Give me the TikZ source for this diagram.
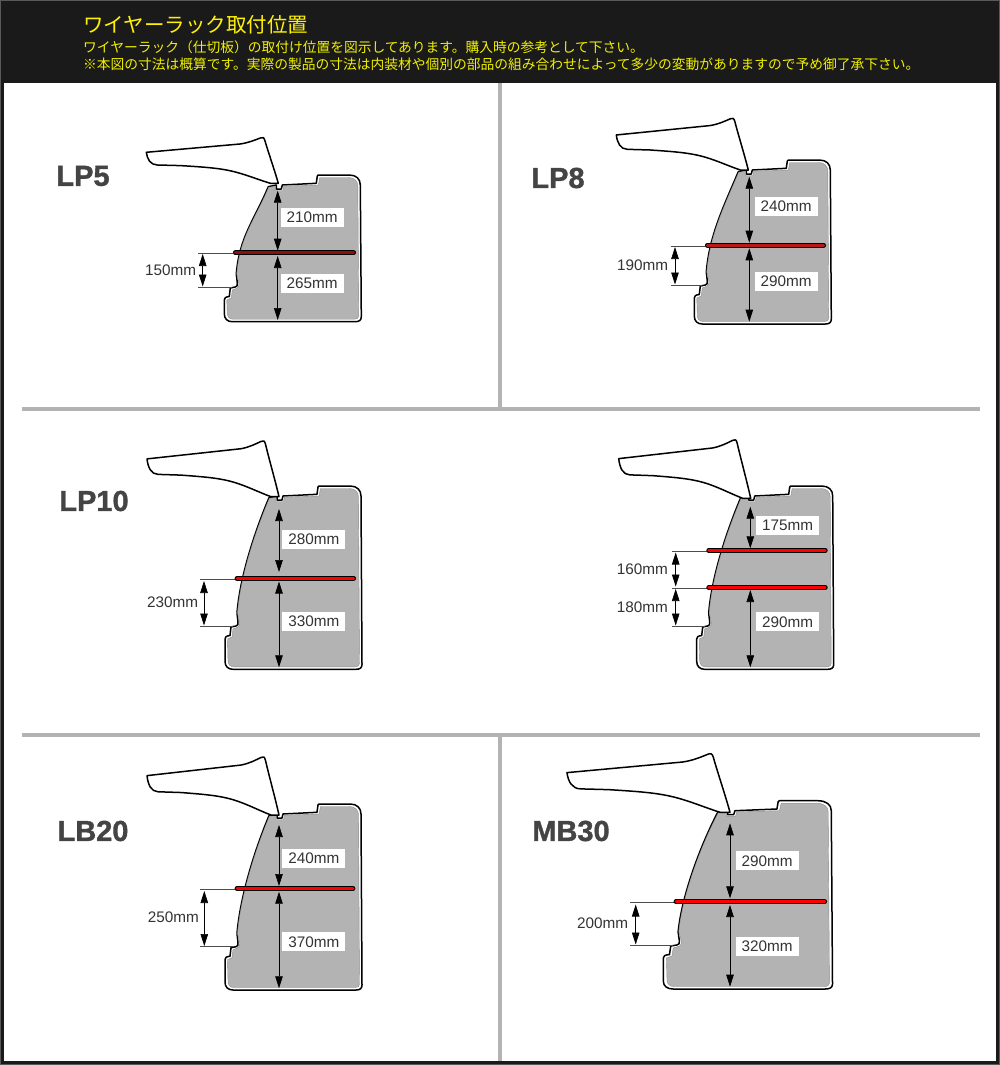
\documentclass[tikz,border=0pt]{standalone}
\usepackage{fontspec}
\usetikzlibrary{arrows.meta}
\setmainfont{Liberation Sans}
\newfontfamily\cjk{Noto Sans CJK JP}
\newfontfamily\namefont[BoldFeatures={FakeBold=1.2}]{Liberation Sans}
\definecolor{headbg}{HTML}{1A1A1A}
\definecolor{rulegray}{HTML}{B3B3B3}
\definecolor{textgray}{HTML}{333333}
\definecolor{namegray}{HTML}{444444}
\definecolor{subyellow}{HTML}{F0F000}
\definecolor{rackdark}{HTML}{8A1010}
\definecolor{rackmid}{HTML}{B81818}
\tikzset{
  vanline/.style={draw=black,line width=1.5pt,line join=round},
  vangray/.style={fill=rulegray,draw=black!45,line width=0.4pt},
  divider/.style={rulegray,line width=3.5pt},
  rack/.style={draw=black,double=#1,line width=1.1pt,double distance=2.6pt,line cap=round,shorten >=2pt,shorten <=2pt},
  dimarrow/.style={black,line width=0.7pt,{Triangle[length=12pt,width=7.5pt]}-{Triangle[length=12pt,width=7.5pt]}},
  extline/.style={black!70,line width=0.7pt},
  sizebox/.style={fill=white,inner sep=0pt,minimum width=63pt,minimum height=19pt,text=textgray,font=\fontsize{15.3}{16}\selectfont},
  sizetext/.style={inner sep=0pt,text=textgray,font=\fontsize{15.3}{16}\selectfont},
  vanname/.style={inner sep=0pt,text=namegray,font=\namefont\fontsize{29}{30}\selectfont\bfseries},
}
% hinge x, top, hinge y, sill, bottom, xscale, wing yscale
\newcommand{\vanshape}[7]{
  \begin{scope}[shift={(#1,0)},xscale=#6]
    \draw[vanline,fill=white] (-10,{#2+11.7}) -- (-2,{#2+10}) -- (-2,{#2+14}) -- (3,{#2+14}) -- (4,{#2+10})
      -- (38,{#2+8.3}) -- (39,{#2+1}) -- (40,#2) -- (71,#2)
      .. controls (78,#2) and (82,{#2+4}) .. (82,{#2+10})
      -- (83,{#5-5}) .. controls (83,{#5-1.5}) and (81,#5) .. (77,#5)
      -- (-46,#5) .. controls (-51,#5) and (-54,{#5-3}) .. (-54,{#5-8})
      -- (-54,{#4+13}) .. controls (-54,{#4+11}) and (-53,{#4+10}) .. (-49,{#4+9.5}) -- (-48,{#4+1}) -- (-43,#4)
      .. controls (-41,#4) and (-41,{#4-2}) .. (-41,{#4-4}) -- (-42,{#4-13})
      .. controls (-39,{#4-50}) and (-24,{#2+45}) .. cycle;
    \path[vangray] (-9.5,{#2+12.2}) -- (-3,{#2+11.5}) -- (-3,{#2+15.5}) -- (4.5,{#2+15.5}) -- (5.5,{#2+11})
      -- (40,{#2+10}) -- (41.5,{#2+2.5}) -- (70,{#2+2.5})
      .. controls (76,{#2+2.5}) and (79.5,{#2+6}) .. (79.5,{#2+11})
      -- (80.5,{#5-6}) .. controls (80.5,{#5-3.5}) and (79,{#5-2.5}) .. (76,{#5-2.5})
      -- (-45,{#5-2.5}) .. controls (-49,{#5-2.5}) and (-51,{#5-5}) .. (-51,{#5-9})
      -- (-51.5,{#4+13}) -- (-47,{#4+11}) -- (-46,{#4+3}) -- (-42,{#4+1.5})
      .. controls (-39.5,{#4+1}) and (-39,{#4-2}) .. (-39.5,{#4-4}) -- (-41.5,{#4-13})
      .. controls (-38.5,{#4-50}) and (-23.5,{#2+45}) .. cycle;
  \end{scope}
  \begin{scope}[shift={(#1,#3)},xscale=#6,yscale=#7]
    \draw[vanline,fill=white] (-132,-31) -- (-38.3,-39.3) .. controls (-30,-40.5) and (-24,-43) .. (-18,-45.3)
      .. controls (-15.5,-46.3) and (-14.5,-46) .. (-13.5,-43)
      .. controls (-10,-31) and (-4,-14) .. (0,0) -- (-8,0)
      .. controls (-18,-3) and (-28,-7) .. (-38.3,-10)
      .. controls (-55,-15) and (-70,-16) .. (-98,-17.7) -- (-121,-18.3)
      .. controls (-128,-18.5) and (-131,-24) .. cycle;
  \end{scope}
}

\begin{document}
\begin{tikzpicture}[x=1pt,y=-1pt]
  \useasboundingbox (0,0) rectangle (1000,1065);
  \fill[white] (0,0) rectangle (1000,1065);
  % header and frame
  \fill[headbg] (0,0) rectangle (1000,83);
  \draw[headbg,line width=4pt] (2,2) rectangle (998,1063);
  \draw[black!65,line width=1pt] (0.5,0.5) rectangle (999.5,1064.5);
  \node[anchor=west,inner sep=0pt,text=yellow,font=\cjk\fontsize{20.5}{22}\selectfont] (title) at (83,24.5) {ワイヤーラック取付位置};
  \node[anchor=west,inner sep=0pt,text=subyellow,font=\cjk\fontsize{13.75}{15}\selectfont] (noteone) at (83,47) {ワイヤーラック（仕切板）の取付け位置を図示してあります。購入時の参考として下さい。};
  \node[anchor=west,inner sep=0pt,text=subyellow,font=\cjk\fontsize{13.75}{15}\selectfont] (notetwo) at (83,64.5) {※本図の寸法は概算です。実際の製品の寸法は内装材や個別の部品の組み合わせによって多少の変動がありますので予め御了承下さい。};
  % dividers
  \draw[divider] (500,83) -- (500,409);
  \draw[divider] (500,735) -- (500,1061);
  \draw[divider] (22,409) -- (980,409);
  \draw[divider] (22,735) -- (980,735);
  % vans
  \vanshape{278.3}{175}{183.3}{287}{321.7}{1}{1}
  \vanshape{748.3}{160}{170}{285}{324}{1}{1.13}
  \vanshape{279}{486}{496.7}{626}{669.3}{1}{1.22}
  \vanshape{750.7}{486}{498.3}{626}{669.3}{1}{1.28}
  \vanshape{279}{804}{815}{946.7}{990}{1}{1.27}
  \vanshape{730}{800.7}{812.3}{945}{989}{1.235}{1.28}
  % van names
  \foreach \nm/\tx/\px/\py in {lpfive/LP5/83/176,lpeight/LP8/558/178,lpten/LP10/94/501,lbtwenty/LB20/93/831,mbthirty/MB30/571/831}
    \node[vanname] (\nm) at (\px,\py) {\tx};
  % end points of racks and dimensions
  \foreach \nm/\px/\py in {a/233.3/252.7,b/355.7/252.7,c/277.7/190.7,d/277.7/250.7,e/277.7/256,f/277.7/320,g/202.7/254,h/202.7/286.5,i/198/253.3,j/198/287,k/232/287,
    a2/705.3/245.3,b2/825.7/245.3,c2/749.3/176.7,d2/749.3/242.7,e2/749.3/248.3,f2/749.3/321.7,g2/675/247,h2/675/284.5,i2/670.7/246,j2/670.7/285,k2/702/285,
    a3/235/578.3,b3/355.7/578.3,c3/279/509,d3/279/572,e3/279/581.5,f3/279/667.3,g3/204/581,h3/204/625.5,i3/200/579,j3/200/626,k3/233/626,
    a4/706.7/550.3,b4/827.3/550.3,c4/750.3/506.7,d4/750.3/548.3,a5/706.7/587.7,b5/827.3/587.7,e4/750.3/590,f4/750.3/667.3,g4/675.7/552.5,h4/675.7/586.5,g5/675.7/589,h5/675.7/625.5,i4/671.7/551,j4/671.7/588.3,i5/671.7/626,k4/705/626,
    a6/235/888.3,b6/355/888.3,c6/279/825,d6/279/886,e6/279/891.7,f6/279/988.3,g6/204.3/891,h6/204.3/946,i6/200/889,j6/200/946.7,k6/233/946.7,
    a7/674/901.7,b7/826.7/901.7,c7/730/823.3,d7/730/898.3,e7/730/905,f7/730/986.7,g7/635.7/904.5,h7/635.7/944.5,i7/630/902.4,j7/630/945,k7/673/945}
    \coordinate (\nm) at (\px,\py);
  % extension lines
  \foreach \s in {,2,3,6,7}
    {
    \draw[extline] (i\s) -- (i\s -| a\s);
    \draw[extline] (j\s) -- (k\s);
    }
  \draw[extline] (i4) -- (i4 -| a4);
  \draw[extline] (j4) -- (j4 -| a5);
  \draw[extline] (i5) -- (k4);
  % racks
  \draw[rack=rackdark] (a) -- (b);
  \draw[rack=rackmid] (a2) -- (b2);
  \draw[rack=red] (a3) -- (b3);
  \draw[rack=red] (a4) -- (b4);
  \draw[rack=red] (a5) -- (b5);
  \draw[rack=red] (a6) -- (b6);
  \draw[rack=red] (a7) -- (b7);
  % dimension arrows
  \foreach \s in {,2,3,4,6,7}
    {
    \draw[dimarrow] (c\s) -- (d\s);
    \draw[dimarrow] (e\s) -- (f\s);
    \draw[dimarrow] (g\s) -- (h\s);
    }
  \draw[dimarrow] (g5) -- (h5);
  % sizes inside the body
  \foreach \nm/\tx/\px/\py in {sa/210mm/312.2/217.5,sb/265mm/312.2/283.5,sc/240mm/786/206.5,sd/290mm/786/281,se/280mm/313.8/539.7,sf/330mm/313.8/621.7,
    sg/175mm/787.7/525.8,sh/290mm/787.7/621.8,si/240mm/313.8/858.3,sj/370mm/313.8/941.8,sk/290mm/767.2/860.8,sl/320mm/767.2/946.3}
    \node[sizebox] (\nm) at (\px,\py) {\tx};
  % sizes beside the body
  \foreach \nm/\tx/\px/\py in {ta/150mm/170.7/270,tb/190mm/642.7/265,tc/230mm/172.7/602.3,td/160mm/642.3/569.3,te/180mm/642.3/607.7,tf/250mm/173.3/917.7,tg/200mm/602.7/923.3}
    \node[sizetext] (\nm) at (\px,\py) {\tx};
\end{tikzpicture}
\end{document}
